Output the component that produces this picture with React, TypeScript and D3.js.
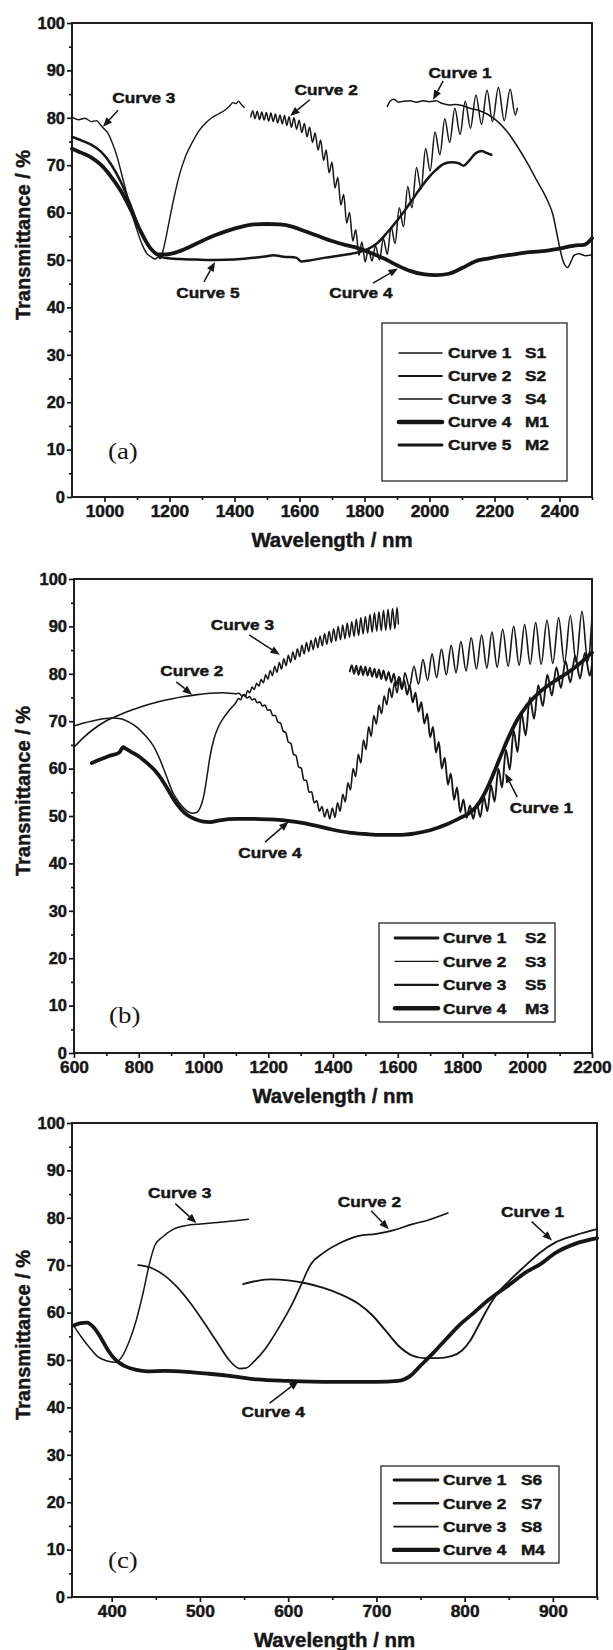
import React, { useRef, useEffect } from 'react';
import * as d3 from 'd3';

type Pt = [number, number];

// ---------- panel (a) ----------
const aCurve1: Pt[] = [
  [1870, 82.4], [1880, 83.6], [1890, 83.9], [1905, 83.3], [1920, 83.5], [1940, 83.6], [1960, 83.3],
  [1980, 83.6], [2000, 83.4], [2020, 83.6], [2040, 83.0], [2060, 82.7], [2080, 82.8], [2100, 82.6],
  [2125, 82.0], [2150, 81.6], [2180, 80.7], [2210, 79.2], [2240, 77.0], [2270, 74.0], [2300, 70.6],
  [2330, 66.8], [2360, 63.0], [2380, 59.5], [2395, 54.5], [2410, 50.0], [2425, 48.4], [2435, 49.6],
  [2445, 51.0], [2460, 51.3], [2480, 50.9], [2500, 51.1],
];
const aCurve2: Pt[] = [
  [1450, 80.2], [1456, 81.5], [1463, 79.8], [1470, 81.4], [1477, 79.6], [1484, 81.2], [1491, 79.5],
  [1498, 81.1], [1505, 79.3], [1512, 81.0], [1519, 79.2], [1526, 80.8], [1533, 78.9], [1540, 80.6],
  [1547, 78.7], [1554, 80.5], [1561, 78.4], [1568, 80.2], [1575, 78.0], [1583, 80.0], [1591, 77.6],
  [1599, 79.5], [1607, 76.9], [1615, 78.8], [1623, 76.0], [1631, 78.0], [1640, 74.8], [1648, 76.8],
  [1657, 73.2], [1665, 75.3], [1674, 71.0], [1682, 73.2], [1691, 68.4], [1700, 70.6], [1709, 65.2],
  [1718, 67.4], [1727, 61.6], [1736, 63.8], [1745, 57.8], [1754, 60.0], [1764, 54.0], [1773, 56.4],
  [1783, 51.0], [1792, 53.8], [1802, 49.6], [1812, 52.4], [1823, 49.8], [1834, 53.0], [1846, 50.0],
  [1858, 54.5], [1870, 51.2], [1882, 57.0], [1894, 53.5], [1907, 61.0], [1920, 57.0], [1933, 65.5],
  [1946, 61.0], [1960, 69.5], [1974, 65.0], [1988, 73.5], [2002, 68.8], [2017, 77.0], [2032, 72.2],
  [2047, 79.8], [2062, 74.8], [2078, 82.0], [2094, 76.5], [2110, 83.5], [2126, 77.8], [2143, 84.8],
  [2160, 78.6], [2177, 85.8], [2194, 79.2], [2212, 86.4], [2230, 79.4], [2248, 86.0], [2264, 80.6],
  [2270, 82.0],
];
const aCurve3: Pt[] = [
  [900, 80.2], [920, 79.6], [940, 79.9], [960, 79.2], [975, 79.4], [990, 78.3], [1000, 77.6],
  [1010, 76.8], [1025, 74.5], [1040, 71.5], [1055, 67.5], [1070, 63.6], [1085, 59.6], [1100, 56.3],
  [1115, 53.4], [1130, 51.4], [1145, 50.6], [1155, 50.2], [1165, 50.6], [1172, 50.3], [1180, 52.0],
  [1190, 55.0], [1200, 58.5], [1215, 63.5], [1230, 67.8], [1250, 72.0], [1270, 74.8], [1290, 77.2],
  [1310, 78.8], [1330, 80.0], [1350, 80.8], [1370, 81.6], [1385, 82.5], [1395, 83.2], [1405, 83.0],
  [1412, 83.5], [1420, 82.9], [1430, 82.2],
];
const aCurve4: Pt[] = [
  [900, 73.5], [930, 72.6], [960, 71.6], [990, 70.0], [1020, 67.6], [1050, 64.6], [1080, 60.7],
  [1110, 56.2], [1140, 52.6], [1165, 51.2], [1190, 51.2], [1220, 51.6], [1260, 52.7], [1300, 54.0],
  [1340, 55.2], [1380, 56.2], [1420, 57.0], [1460, 57.5], [1500, 57.6], [1540, 57.5], [1580, 57.0],
  [1620, 56.0], [1660, 55.0], [1700, 54.0], [1740, 53.2], [1780, 52.5], [1820, 51.5], [1860, 50.3],
  [1900, 48.9], [1940, 47.7], [1980, 47.0], [2020, 46.8], [2060, 47.1], [2100, 48.3], [2140, 49.7],
  [2180, 50.3], [2220, 50.8], [2260, 51.2], [2300, 51.6], [2340, 51.8], [2380, 52.2], [2420, 52.7],
  [2450, 53.1], [2475, 53.2], [2500, 54.6],
];
const aCurve5: Pt[] = [
  [900, 76.0], [930, 75.2], [960, 74.3], [990, 72.8], [1020, 70.2], [1050, 66.5], [1080, 61.6],
  [1110, 56.2], [1140, 52.6], [1165, 50.9], [1190, 50.4], [1230, 50.2], [1280, 50.1], [1340, 50.0],
  [1400, 50.1], [1450, 50.4], [1500, 50.8], [1520, 51.0], [1550, 50.7], [1590, 50.5], [1605, 49.7],
  [1630, 49.9], [1680, 50.5], [1730, 51.0], [1780, 51.6], [1810, 52.3], [1840, 53.6], [1870, 55.8],
  [1900, 58.3], [1930, 61.0], [1960, 64.0], [1990, 66.8], [2020, 69.0], [2045, 70.3], [2070, 70.6],
  [2090, 70.4], [2105, 69.9], [2120, 70.8], [2140, 72.4], [2160, 73.0], [2175, 72.6], [2190, 72.2],
];

// ---------- panel (b) ----------
const bCurve1: Pt[] = [
  [1452, 80.5], [1458, 81.8], [1465, 80.0], [1472, 81.7], [1479, 79.8], [1486, 81.6], [1493, 79.7],
  [1500, 81.5], [1507, 79.6], [1514, 81.3], [1521, 79.4], [1528, 81.1], [1535, 79.2], [1542, 80.9],
  [1549, 78.9], [1556, 80.7], [1564, 78.6], [1572, 80.4], [1580, 78.2], [1588, 80.0], [1596, 77.6],
  [1604, 79.4], [1612, 76.8], [1620, 78.6], [1629, 75.6], [1637, 77.5], [1646, 74.0], [1655, 76.0],
  [1664, 72.0], [1673, 74.0], [1682, 69.5], [1691, 71.6], [1700, 66.6], [1709, 68.8], [1718, 63.4],
  [1727, 65.6], [1736, 60.0], [1745, 62.3], [1755, 56.6], [1764, 59.0], [1774, 53.4], [1783, 56.0],
  [1793, 50.8], [1803, 53.5], [1813, 49.6], [1823, 52.2], [1833, 49.4], [1844, 52.6], [1855, 49.8],
  [1866, 54.0], [1877, 51.0], [1888, 56.5], [1899, 53.0], [1911, 60.0], [1922, 56.0], [1934, 64.0],
  [1946, 59.8], [1958, 68.0], [1970, 63.5], [1982, 71.8], [1995, 67.0], [2008, 75.0], [2021, 70.5],
  [2034, 77.6], [2048, 73.2], [2062, 79.8], [2076, 75.4], [2090, 81.4], [2104, 77.0], [2118, 82.7],
  [2133, 78.2], [2148, 83.8], [2163, 79.0], [2178, 84.4], [2193, 79.6], [2200, 82.0],
];
const bCurve2: Pt[] = [
  [600, 64.5], [630, 66.6], [660, 68.3], [700, 70.1], [740, 71.3], [780, 72.4], [820, 73.3],
  [860, 74.1], [900, 74.7], [940, 75.2], [980, 75.6], [1020, 75.9], [1060, 76.0], [1100, 75.8],
  [1110, 75.9], [1118, 75.3], [1126, 75.6], [1134, 74.9], [1142, 75.2], [1150, 74.5], [1158, 74.7],
  [1166, 73.9], [1174, 74.1], [1182, 73.2], [1190, 73.4], [1198, 72.3], [1206, 72.4], [1214, 71.2],
  [1222, 71.2], [1230, 69.8], [1238, 69.6], [1246, 67.9], [1254, 67.6], [1262, 65.6], [1270, 65.3],
  [1278, 63.0], [1286, 62.7], [1294, 60.3], [1302, 60.1], [1310, 57.6], [1318, 57.5], [1326, 55.0],
  [1334, 55.1], [1342, 52.8], [1350, 53.2], [1358, 51.0], [1366, 52.0], [1374, 49.8], [1382, 51.4],
  [1390, 49.4], [1398, 51.7], [1406, 49.7], [1414, 52.8], [1422, 51.0], [1430, 54.6], [1438, 53.0],
  [1446, 57.0], [1454, 55.5], [1462, 60.0], [1470, 58.3], [1478, 63.0], [1486, 61.2], [1494, 66.0],
  [1502, 64.0], [1510, 68.8], [1518, 66.8], [1526, 71.2], [1534, 69.4], [1542, 73.4], [1550, 71.6],
  [1558, 75.3], [1566, 73.5], [1574, 77.0], [1582, 75.0], [1590, 78.2], [1598, 76.0], [1606, 79.2],
  [1614, 76.8], [1622, 80.2], [1636, 77.2], [1650, 81.6], [1664, 77.8], [1678, 83.0], [1692, 78.6],
  [1706, 84.2], [1720, 79.2], [1735, 85.2], [1750, 79.8], [1765, 86.0], [1780, 80.2], [1795, 86.8],
  [1811, 80.6], [1827, 87.6], [1843, 81.0], [1859, 88.2], [1875, 81.2], [1891, 88.8], [1907, 81.4],
  [1924, 89.4], [1941, 81.6], [1958, 90.0], [1975, 81.8], [1992, 90.4], [2009, 82.0], [2026, 90.8],
  [2043, 82.0], [2061, 91.3], [2079, 82.2], [2097, 91.8], [2115, 82.2], [2133, 92.3], [2151, 82.4],
  [2169, 93.2], [2187, 82.6], [2200, 92.0],
];
const bCurve3: Pt[] = [
  [600, 69.0], [630, 69.6], [660, 70.1], [690, 70.5], [720, 70.7], [745, 70.5], [770, 69.8],
  [795, 68.7], [820, 67.0], [845, 64.8], [865, 62.0], [885, 58.5], [905, 55.0], [925, 52.8],
  [945, 51.3], [965, 50.6], [980, 50.8], [990, 51.8], [1000, 54.0], [1010, 58.0], [1020, 62.5],
  [1032, 66.2], [1046, 68.8], [1060, 70.5], [1075, 71.9], [1090, 73.1], [1100, 73.9], [1108, 74.8],
  [1115, 74.5], [1122, 75.6], [1129, 75.2], [1136, 76.4], [1143, 76.0], [1150, 77.2], [1157, 76.7],
  [1164, 78.0], [1171, 77.4], [1178, 78.8], [1185, 78.1], [1192, 79.8], [1199, 78.9], [1206, 80.7],
  [1213, 79.6], [1220, 81.6], [1227, 80.3], [1234, 82.4], [1241, 81.0], [1248, 83.2], [1255, 81.7],
  [1262, 83.9], [1269, 82.4], [1276, 84.6], [1283, 83.0], [1290, 85.3], [1297, 83.6], [1304, 86.0],
  [1311, 84.2], [1318, 86.6], [1325, 84.7], [1332, 87.1], [1339, 85.1], [1346, 87.6], [1353, 85.5],
  [1360, 88.0], [1367, 85.9], [1374, 88.5], [1381, 86.2], [1388, 89.0], [1395, 86.6], [1402, 89.5],
  [1409, 86.9], [1416, 90.0], [1423, 87.2], [1430, 90.3], [1437, 87.4], [1444, 90.7], [1451, 87.7],
  [1458, 91.0], [1465, 87.9], [1472, 91.5], [1479, 88.1], [1486, 91.8], [1493, 88.4], [1500, 92.1],
  [1507, 88.6], [1514, 92.5], [1521, 88.8], [1528, 92.9], [1535, 89.0], [1542, 93.1], [1549, 89.1],
  [1556, 93.4], [1563, 89.2], [1570, 93.6], [1577, 89.3], [1584, 93.8], [1591, 89.5], [1598, 94.0],
  [1602, 90.5],
];
const bCurve4: Pt[] = [
  [655, 61.2], [680, 61.9], [710, 62.7], [740, 63.4], [752, 64.5], [760, 64.2], [775, 63.6],
  [800, 62.6], [825, 61.2], [850, 59.6], [870, 57.8], [890, 55.6], [910, 53.3], [930, 51.5],
  [950, 50.2], [975, 49.3], [1000, 48.8], [1020, 48.7], [1050, 49.1], [1100, 49.4], [1150, 49.4],
  [1200, 49.3], [1250, 49.1], [1300, 48.6], [1350, 47.9], [1400, 47.1], [1450, 46.5], [1500, 46.2],
  [1550, 46.0], [1600, 46.0], [1650, 46.3], [1700, 47.0], [1750, 48.2], [1790, 49.5], [1820, 50.6],
  [1845, 52.2], [1870, 55.0], [1895, 58.8], [1920, 63.0], [1945, 67.0], [1970, 70.4], [2000, 73.4],
  [2030, 75.6], [2060, 77.3], [2090, 78.7], [2120, 80.0], [2150, 81.5], [2180, 83.2], [2200, 84.5],
];

// ---------- panel (c) ----------
const cCurve1: Pt[] = [
  [549, 66.0], [565, 66.7], [580, 67.0], [600, 66.8], [620, 66.2], [640, 65.2], [660, 63.8],
  [680, 61.8], [695, 59.5], [710, 56.3], [725, 53.0], [740, 51.0], [755, 50.4], [770, 50.4],
  [785, 50.8], [797, 52.0], [806, 54.0], [815, 57.0], [825, 60.5], [835, 63.5], [850, 66.6],
  [867, 69.6], [885, 72.6], [903, 74.8], [925, 76.3], [950, 77.6],
];
const cCurve2: Pt[] = [
  [430, 70.0], [445, 69.4], [460, 67.8], [475, 65.2], [490, 61.8], [505, 57.8], [520, 53.6],
  [533, 50.0], [545, 48.2], [552, 48.3], [562, 49.8], [575, 52.6], [590, 57.0], [605, 62.0],
  [615, 66.0], [625, 70.0], [640, 72.6], [660, 74.8], [680, 76.2], [700, 76.6], [720, 77.4],
  [740, 78.6], [760, 79.6], [781, 81.0],
];
const cCurve3: Pt[] = [
  [357, 57.2], [365, 55.0], [375, 52.6], [385, 50.6], [395, 49.8], [405, 49.5], [412, 50.8],
  [420, 54.0], [428, 58.5], [436, 64.5], [443, 70.5], [449, 74.2], [458, 76.0], [470, 77.6],
  [485, 78.4], [500, 78.7], [520, 79.0], [540, 79.4], [555, 79.7],
];
const cCurve4: Pt[] = [
  [357, 57.3], [365, 57.8], [372, 57.9], [380, 56.8], [388, 54.6], [396, 52.0], [405, 49.9],
  [415, 48.7], [428, 47.9], [440, 47.6], [460, 47.7], [485, 47.5], [510, 47.1], [540, 46.5],
  [565, 45.9], [600, 45.6], [650, 45.4], [700, 45.4], [725, 45.6], [738, 46.6], [750, 48.8],
  [765, 51.6], [780, 54.6], [795, 57.5], [810, 59.9], [828, 62.8], [850, 65.8], [872, 68.8],
  [885, 70.1], [903, 72.6], [925, 74.5], [950, 75.7],
];

// ---------- ticks and labels ----------
const yTicks = [0, 10, 20, 30, 40, 50, 60, 70, 80, 90, 100];
const yMinor = [5, 15, 25, 35, 45, 55, 65, 75, 85, 95];
const aXTicks = [1000, 1200, 1400, 1600, 1800, 2000, 2200, 2400];
const aXMinor = [1100, 1300, 1500, 1700, 1900, 2100, 2300, 2500];
const bXTicks = [600, 800, 1000, 1200, 1400, 1600, 1800, 2000, 2200];
const bXMinor = [700, 900, 1100, 1300, 1500, 1700, 1900, 2100];
const cXTicks = [400, 500, 600, 700, 800, 900];
const cXMinor = [450, 550, 650, 750, 850, 950];

const aNames = ['Curve 1', 'Curve 2', 'Curve 3', 'Curve 4', 'Curve 5'];
const aSamples = ['S1', 'S2', 'S4', 'M1', 'M2'];
const bNames = ['Curve 1', 'Curve 2', 'Curve 3', 'Curve 4'];
const bSamples = ['S2', 'S3', 'S5', 'M3'];
const cNames = ['Curve 1', 'Curve 2', 'Curve 3', 'Curve 4'];
const cSamples = ['S6', 'S7', 'S8', 'M4'];

const xTitle = 'Wavelength / nm';
const yTitle = 'Transmittance / %';

const INK = '#161616';
const SANS = '"Liberation Sans", Arial, Helvetica, sans-serif';
const SERIF = '"Liberation Serif", "Times New Roman", serif';
const PLOT_H = 474;

// callouts: label centre and arrow, in data units
const aNotes = [
  { label: 'Curve 3', at: [1121, 84.2], from: [1042, 81.6], to: [995, 78.1] },
  { label: 'Curve 2', at: [1682, 85.9], from: [1632, 83.8], to: [1571, 80.4] },
  { label: 'Curve 1', at: [2094, 89.5], from: [2042, 87.8], to: [2011, 83.8] },
  { label: 'Curve 5', at: [1318, 43.2], from: [1306, 45.4], to: [1340, 49.6] },
  { label: 'Curve 4', at: [1789, 43.0], from: [1826, 45.1], to: [1903, 48.2] },
];
const bNotes = [
  { label: 'Curve 3', at: [1120, 90.3], from: [1141, 88.2], to: [1236, 84.0] },
  { label: 'Curve 2', at: [964, 80.6], from: [916, 78.3], to: [965, 75.6] },
  { label: 'Curve 4', at: [1205, 42.2], from: [1190, 44.5], to: [1263, 48.8] },
  { label: 'Curve 1', at: [2044, 51.7], from: [1969, 54.0], to: [1932, 59.0] },
];
const cNotes = [
  { label: 'Curve 3', at: [477, 85.3], from: [472, 83.0], to: [496, 78.9] },
  { label: 'Curve 2', at: [692, 83.4], from: [694, 81.5], to: [714, 77.6] },
  { label: 'Curve 1', at: [877, 81.3], from: [876, 79.2], to: [899, 75.2] },
  { label: 'Curve 4', at: [583, 39.0], from: [579, 40.9], to: [612, 45.6] },
];

const panels = [
  {
    key: 'a', top: 23, left: 72, right: 592, xDomain: [900, 2500],
    xTicks: aXTicks, xMinor: aXMinor,
    curves: [aCurve1, aCurve2, aCurve3, aCurve4, aCurve5],
    widths: [1.5, 1.5, 1.4, 3.8, 2.5],
    names: aNames, samples: aSamples, legendWidths: [1.5, 1.8, 1.4, 4.6, 3.0],
    legend: { x: 382, y: 323, w: 185, h: 158, row0: 353, gap: 23, l0: 399, l1: 442, tx: 448, sx: 525 },
    notes: aNotes, tag: '(a)', tagPos: [108, 459],
  },
  {
    key: 'b', top: 579, left: 74, right: 592, xDomain: [600, 2200],
    xTicks: bXTicks, xMinor: bXMinor,
    curves: [bCurve1, bCurve2, bCurve3, bCurve4],
    widths: [1.9, 1.6, 1.5, 3.8],
    names: bNames, samples: bSamples, legendWidths: [2.8, 1.4, 2.2, 4.4],
    legend: { x: 379, y: 923, w: 176, h: 99, row0: 938, gap: 23.4, l0: 395, l1: 438, tx: 443, sx: 525 },
    notes: bNotes, tag: '(b)', tagPos: [109, 1023],
  },
  {
    key: 'c', top: 1123, left: 72, right: 597, xDomain: [355, 950],
    xTicks: cXTicks, xMinor: cXMinor,
    curves: [cCurve1, cCurve2, cCurve3, cCurve4],
    widths: [1.9, 1.7, 1.5, 3.8],
    names: cNames, samples: cSamples, legendWidths: [2.8, 2.4, 1.6, 4.4],
    legend: { x: 381, y: 1466, w: 178, h: 97, row0: 1480, gap: 23.3, l0: 394, l1: 438, tx: 443, sx: 521 },
    notes: cNotes, tag: '(c)', tagPos: [108, 1568],
  },
];

const Panel = ({ cfg }: { cfg: any }) => {
  const ref = useRef<SVGGElement>(null);

  useEffect(() => {
    const g = d3.select(ref.current);
    g.selectAll('*').remove();

    const bottom = cfg.top + PLOT_H;
    const x = d3.scaleLinear().domain(cfg.xDomain).range([cfg.left, cfg.right]);
    const y = d3.scaleLinear().domain([0, 100]).range([bottom, cfg.top]);

    // bold sans text, slightly widened and heavier like the original scan
    const label = (s: string, px: number, py: number, size: number, anchor: string, sx = 1.15) =>
      g.append('text')
        .attr('transform', `translate(${px},${py}) scale(${sx},1)`)
        .attr('text-anchor', anchor)
        .attr('font-family', SANS)
        .attr('font-weight', 'bold')
        .attr('font-size', size)
        .attr('fill', INK)
        .attr('stroke', INK)
        .attr('stroke-width', 0.45)
        .text(s);

    // axes
    const xAxis = g.append('g').attr('transform', `translate(0,${bottom})`)
      .call(d3.axisBottom(x).tickValues(cfg.xTicks).tickSize(5).tickPadding(3.5).tickFormat(d3.format('d')));
    const yAxis = g.append('g').attr('transform', `translate(${cfg.left},0)`)
      .call(d3.axisLeft(y).tickValues(yTicks).tickSize(5).tickPadding(2).tickFormat(d3.format('d')));
    const xMin = g.append('g').attr('transform', `translate(0,${bottom})`)
      .call(d3.axisBottom(x).tickValues(cfg.xMinor).tickSize(3).tickFormat(() => ''));
    const yMin = g.append('g').attr('transform', `translate(${cfg.left},0)`)
      .call(d3.axisLeft(y).tickValues(yMinor).tickSize(3).tickFormat(() => ''));
    [xAxis, yAxis, xMin, yMin].forEach(a => {
      a.select('.domain').remove();
      a.attr('font-family', SANS).attr('font-size', 16.5).attr('font-weight', 'bold');
      a.selectAll('.tick line').attr('stroke', INK).attr('stroke-width', 1.7);
      a.selectAll('.tick text').attr('fill', INK).attr('stroke', INK).attr('stroke-width', 0.45);
    });
    xAxis.selectAll('.tick text').attr('transform', 'scale(1.05,1)');

    // frame
    g.append('rect')
      .attr('x', cfg.left).attr('y', cfg.top)
      .attr('width', cfg.right - cfg.left).attr('height', PLOT_H)
      .attr('fill', 'none').attr('stroke', INK).attr('stroke-width', 1.9);

    // curves
    const line = d3.line<Pt>().x(d => x(d[0])).y(d => y(d[1])).curve(d3.curveMonotoneX);
    cfg.curves.forEach((c: Pt[], i: number) => {
      g.append('path').attr('d', line(c)).attr('fill', 'none')
        .attr('stroke', INK).attr('stroke-width', cfg.widths[i])
        .attr('stroke-linejoin', 'round').attr('stroke-linecap', 'round');
    });

    // callouts
    cfg.notes.forEach((n: any) => {
      label(n.label, x(n.at[0]), y(n.at[1]) + 5.3, 15, 'middle');
      const sx0 = x(n.from[0]), sy0 = y(n.from[1]);
      const ex = x(n.to[0]), ey = y(n.to[1]);
      const len = Math.hypot(ex - sx0, ey - sy0);
      const ux = (ex - sx0) / len, uy = (ey - sy0) / len;
      const bx = ex - ux * 9.5, by = ey - uy * 9.5;
      g.append('line').attr('x1', sx0).attr('y1', sy0).attr('x2', bx).attr('y2', by)
        .attr('stroke', INK).attr('stroke-width', 1.5);
      g.append('path')
        .attr('d', `M${ex},${ey}L${bx - uy * 3.8},${by + ux * 3.8}L${bx + uy * 3.8},${by - ux * 3.8}Z`)
        .attr('fill', INK);
    });

    // legend
    const L = cfg.legend;
    g.append('rect').attr('x', L.x).attr('y', L.y).attr('width', L.w).attr('height', L.h)
      .attr('fill', '#fff').attr('stroke', INK).attr('stroke-width', 1.2);
    cfg.names.forEach((nm: string, i: number) => {
      const ry = L.row0 + i * L.gap;
      g.append('line').attr('x1', L.l0).attr('x2', L.l1).attr('y1', ry).attr('y2', ry)
        .attr('stroke', INK).attr('stroke-width', cfg.legendWidths[i]).attr('stroke-linecap', 'round');
      label(nm, L.tx, ry + 5.3, 15, 'start');
      label(cfg.samples[i], L.sx, ry + 5.3, 15, 'start');
    });

    // panel tag
    g.append('text')
      .attr('transform', `translate(${cfg.tagPos[0]},${cfg.tagPos[1]}) scale(1.12,1)`)
      .attr('font-family', SERIF).attr('font-size', 24).attr('fill', INK)
      .text(cfg.tag);

    // axis titles
    label(xTitle, (cfg.left + cfg.right) / 2, bottom + 50, 20, 'middle', 1.02);
    g.append('text')
      .attr('transform', `translate(30,${cfg.top + 212}) rotate(-90)`)
      .attr('text-anchor', 'middle')
      .attr('font-family', SANS).attr('font-weight', 'bold').attr('font-size', 20)
      .attr('fill', INK).attr('stroke', INK).attr('stroke-width', 0.45)
      .text(yTitle);
  }, [cfg]);

  return <g ref={ref} />;
};

export default function App() {
  return (
    <svg width={613} height={1650}
      style={{ position: 'absolute', left: 0, top: 0, background: '#fff' }}>
      <rect width={613} height={1650} fill="#fff" />
      {panels.map(p => <Panel key={p.key} cfg={p} />)}
    </svg>
  );
}
